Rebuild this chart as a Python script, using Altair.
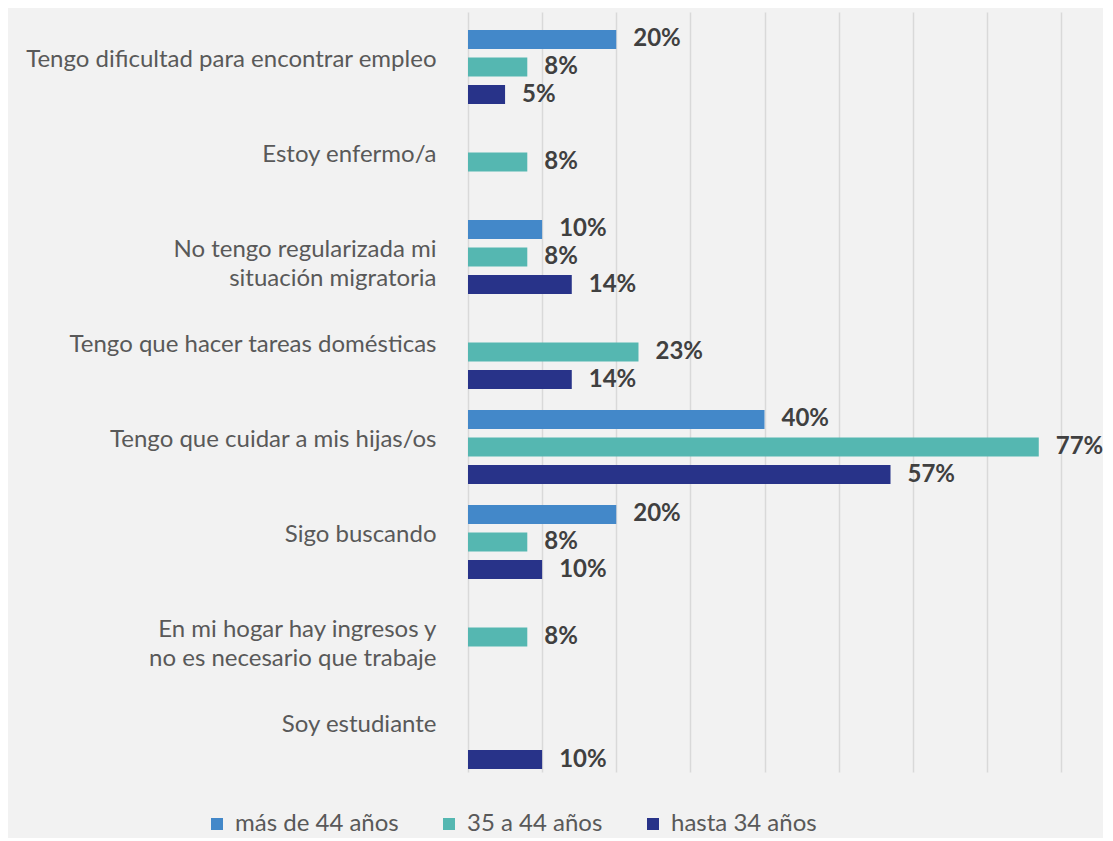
import altair as alt
import pandas as pd

categories = [
    "Tengo dificultad para encontrar empleo",
    "Estoy enfermo/a",
    "No tengo regularizada mi|situación migratoria",
    "Tengo que hacer tareas domésticas",
    "Tengo que cuidar a mis hijas/os",
    "Sigo buscando",
    "En mi hogar hay ingresos y|no es necesario que trabaje",
    "Soy estudiante",
]
series = ["más de 44 años", "35 a 44 años", "hasta 34 años"]
mas_44 = [20, None, 10, None, 40, 20, None, None]
de_35_44 = [8, 8, 8, 23, 77, 8, 8, None]
hasta_34 = [5, None, 14, 14, 57, 10, None, 10]
colors = ["#4388C9", "#55B7B1", "#283389"]

rows = []
for s, vals in zip(series, [mas_44, de_35_44, hasta_34]):
    for c, v in zip(categories, vals):
        if v is not None:
            rows.append({"cat": c, "serie": s, "valor": v / 100})
df = pd.DataFrame(rows)

FONT = "Lato"

y_enc = alt.Y(
    "cat:N",
    sort=categories,
    scale=alt.Scale(paddingInner=0, paddingOuter=0),
    axis=alt.Axis(
        title=None, domain=False, ticks=False, labelPadding=32,
        labelFontSize=24, labelFont=FONT, labelColor="#595959",
        labelLimit=0, labelLineHeight=29,
        labelExpr="split(datum.label, '|')",
    ),
)
yoff_enc = alt.YOffset(
    "serie:N", sort=series,
    scale=alt.Scale(paddingInner=0.31, paddingOuter=0.38, align=0.86),
)
x_enc = alt.X(
    "valor:Q",
    scale=alt.Scale(domain=[0, 0.8], nice=False),
    axis=alt.Axis(
        title=None, labels=False, ticks=False, domain=False,
        values=[0, 0.1, 0.2, 0.3, 0.4, 0.5, 0.6, 0.7, 0.8],
        grid=True, gridColor="#d9d9d9", gridWidth=1.5,
    ),
)
color_enc = alt.Color(
    "serie:N", sort=series,
    scale=alt.Scale(domain=series, range=colors),
    legend=alt.Legend(
        title=None, orient="none", legendX=-263, legendY=800,
        direction="horizontal", symbolType="square", symbolSize=144,
        symbolStrokeWidth=0, labelFontSize=24, labelFont=FONT,
        labelColor="#595959", columnPadding=38, labelOffset=6,
        labelLimit=0,
    ),
)

bars = alt.Chart(df).mark_bar(size=19).encode(
    y=y_enc, yOffset=yoff_enc, x=x_enc, color=color_enc
)
texts = alt.Chart(df).mark_text(
    align="left", baseline="middle", dx=17, fontSize=24,
    fontWeight="bold", font=FONT, color="#404040",
).encode(
    y=y_enc, yOffset=yoff_enc, x=x_enc,
    text=alt.Text("valor:Q", format=".0%"),
)

chart = (
    alt.layer(bars, texts)
    .properties(
        width=593, height=760,
        padding={"left": 460, "top": 4, "right": 42, "bottom": 66},
        autosize=alt.AutoSizeParams(type="none"),
        background="#f2f2f2",
    )
    .configure_view(stroke=None)
)

chart.save("out.html", embed_options={"renderer": "svg", "actions": False})
